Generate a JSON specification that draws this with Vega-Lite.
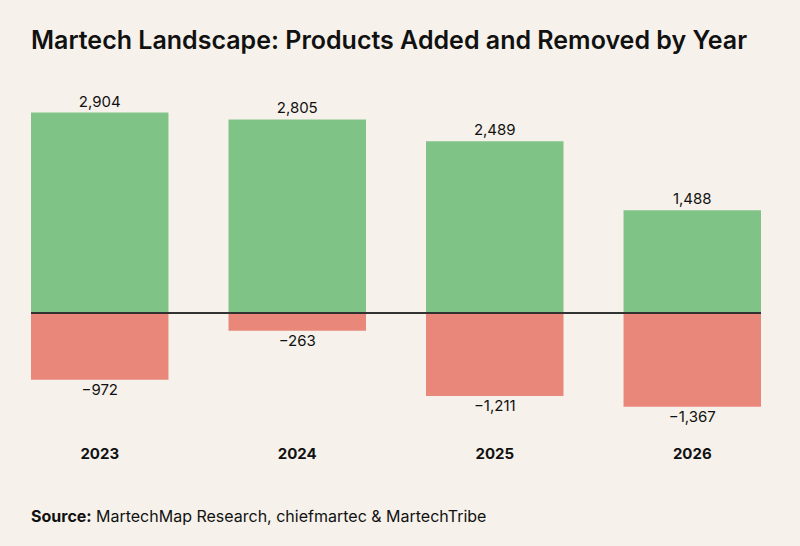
{
  "$schema": "https://vega.github.io/schema/vega-lite/v6.json",
  "width": 730,
  "height": 310,
  "autosize": "none",
  "padding": {"left": 31, "top": 106, "right": 39, "bottom": 130},
  "background": "#f6f2eb",
  "config": {"view": {"stroke": null}, "font": "Inter", "text": {"font": "Inter"}},
  "title": {
    "text": "Martech Landscape: Products Added and Removed by Year",
    "anchor": "start",
    "frame": "group",
    "fontSize": 25,
    "fontWeight": 600,
    "font": "Inter",
    "color": "#111111",
    "offset": 41
  },
  "data": {
    "values": [
      {"year": "2023", "type": "Added", "value": 2904},
      {"year": "2023", "type": "Removed", "value": -972},
      {"year": "2024", "type": "Added", "value": 2805},
      {"year": "2024", "type": "Removed", "value": -263},
      {"year": "2025", "type": "Added", "value": 2489},
      {"year": "2025", "type": "Removed", "value": -1211},
      {"year": "2026", "type": "Added", "value": 1488},
      {"year": "2026", "type": "Removed", "value": -1367}
    ]
  },
  "layer": [
    {
      "mark": {"type": "bar"},
      "encoding": {
        "x": {
          "field": "year",
          "type": "nominal",
          "scale": {"paddingInner": 0.304, "paddingOuter": 0},
          "axis": {
            "title": null,
            "domain": false,
            "ticks": false,
            "tickSize": 0,
            "labelPadding": 30,
            "labelFontSize": 15,
            "labelFontWeight": 700,
            "labelFont": "Inter",
            "labelColor": "#111111",
            "labelAngle": 0,
            "labelBaseline": "top"
          }
        },
        "y": {
          "field": "value",
          "type": "quantitative",
          "scale": {"domain": [-1500, 3000], "nice": false, "zero": true},
          "axis": null
        },
        "color": {
          "field": "type",
          "type": "nominal",
          "scale": {"domain": ["Added", "Removed"], "range": ["#80c387", "#e8877a"]},
          "legend": null
        }
      }
    },
    {
      "transform": [{"filter": "datum.value > 0"}],
      "mark": {"type": "text", "baseline": "bottom", "dy": -3, "fontSize": 15, "color": "#111111"},
      "encoding": {
        "x": {"field": "year", "type": "nominal"},
        "y": {"field": "value", "type": "quantitative"},
        "text": {"field": "value", "type": "quantitative", "format": ","}
      }
    },
    {
      "transform": [{"filter": "datum.value < 0"}],
      "mark": {"type": "text", "baseline": "top", "dy": 3, "fontSize": 15, "color": "#111111"},
      "encoding": {
        "x": {"field": "year", "type": "nominal"},
        "y": {"field": "value", "type": "quantitative"},
        "text": {"field": "value", "type": "quantitative", "format": ","}
      }
    },
    {
      "mark": {"type": "rule", "color": "#333333", "strokeWidth": 1.5},
      "encoding": {"y": {"datum": 0}}
    },
    {
      "data": {"values": [{"label": "Source:"}]},
      "mark": {"type": "text", "align": "left", "baseline": "middle", "fontSize": 16, "fontWeight": 700, "color": "#111111"},
      "encoding": {
        "x": {"datum": "2023", "bandPosition": 0},
        "y": {"datum": -2960},
        "text": {"field": "label"}
      }
    },
    {
      "data": {"values": [{"label": "MartechMap Research, chiefmartec & MartechTribe"}]},
      "mark": {"type": "text", "align": "left", "baseline": "middle", "fontSize": 16, "color": "#111111", "dx": 65},
      "encoding": {
        "x": {"datum": "2023", "bandPosition": 0},
        "y": {"datum": -2960},
        "text": {"field": "label"}
      }
    }
  ]
}
